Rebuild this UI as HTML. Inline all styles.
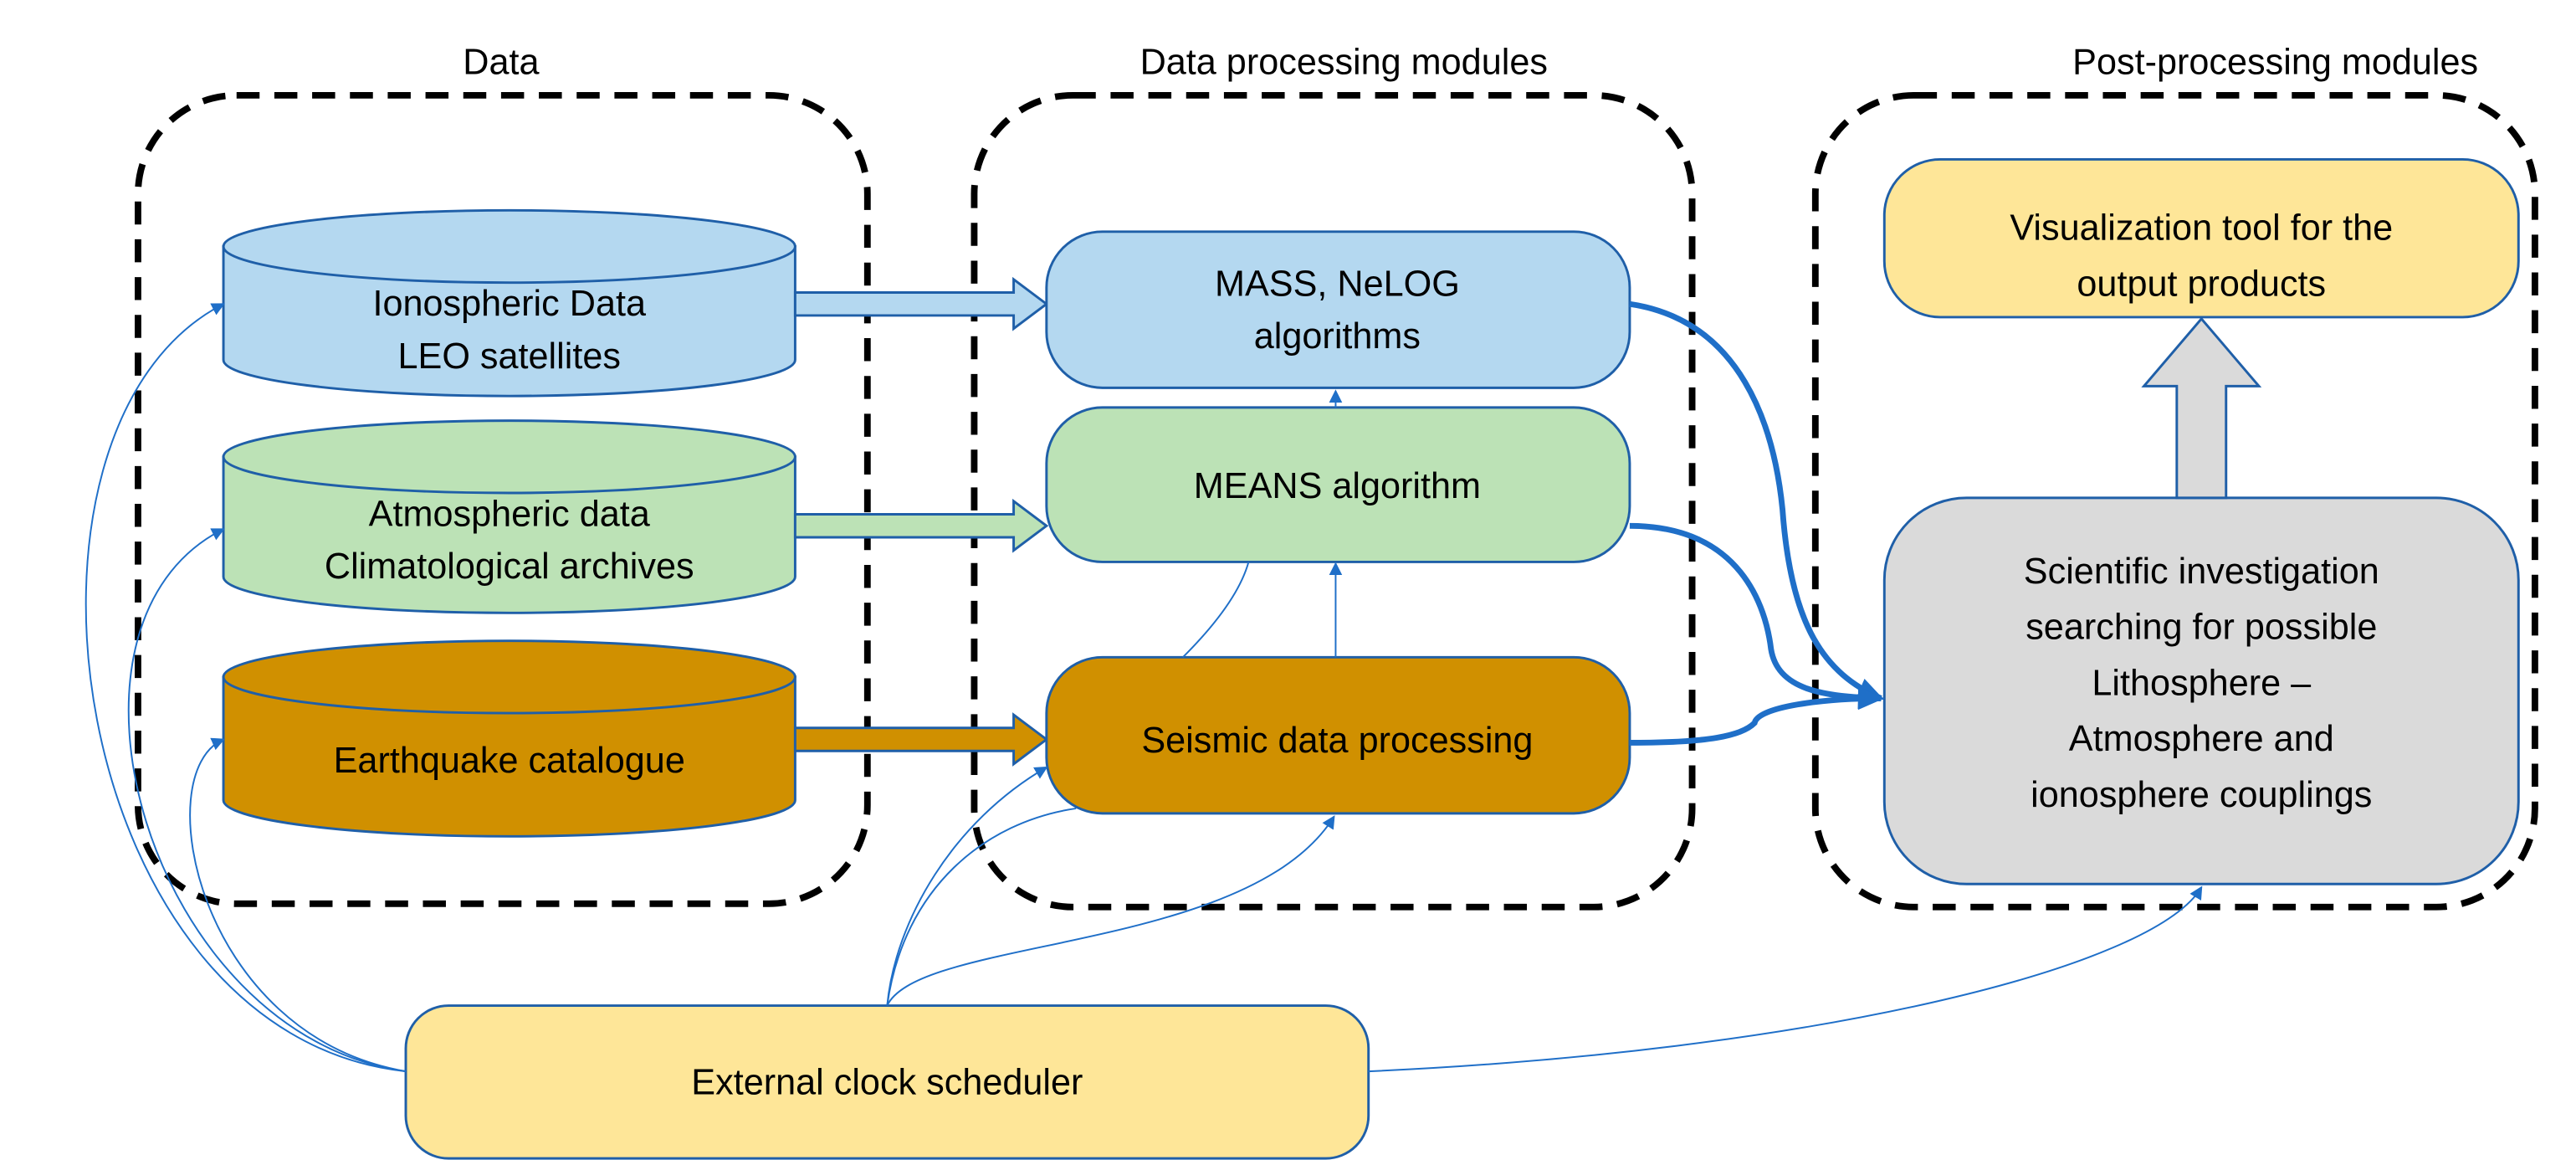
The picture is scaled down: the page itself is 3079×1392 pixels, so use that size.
<!DOCTYPE html>
<html><head><meta charset="utf-8"><style>
html,body{margin:0;padding:0;background:#fff;}
svg{display:block;}
text{font-family:"Liberation Sans",sans-serif;font-size:22px;fill:#000;text-anchor:middle;}
</style></head><body>
<svg width="3079" height="1392" viewBox="0 0 1568 709" preserveAspectRatio="none" xmlns="http://www.w3.org/2000/svg">
<defs>
<marker id="a" markerWidth="8" markerHeight="8" refX="7" refY="4" orient="auto" markerUnits="userSpaceOnUse"><path d="M0,0 L8,4 L0,8 z" fill="#1f6fc8"/></marker>
<marker id="b" markerWidth="16" markerHeight="14" refX="14" refY="7" orient="auto" markerUnits="userSpaceOnUse"><path d="M0,0 L16,7 L0,14 z" fill="#1f6fc8"/></marker>
</defs>
<text x="305" y="45">Data</text>
<text x="818" y="45">Data processing modules</text>
<text x="1385" y="45">Post-processing modules</text>
<rect x="84" y="58" width="444" height="492" rx="60" fill="none" stroke="#000" stroke-width="4" stroke-dasharray="14,9"/>
<rect x="593" y="58" width="437" height="494" rx="60" fill="none" stroke="#000" stroke-width="4" stroke-dasharray="14,9"/>
<rect x="1105" y="58" width="438" height="494" rx="60" fill="none" stroke="#000" stroke-width="4" stroke-dasharray="14,9"/>
<g stroke="#1f5fa8" stroke-width="1.5">
<path d="M136,150 L136,219 A174,22 0 0 0 484,219 L484,150 Z" fill="#b4d8f0"/>
<ellipse cx="310" cy="150" rx="174" ry="22" fill="#b4d8f0"/>
<path d="M136,278 L136,351 A174,22 0 0 0 484,351 L484,278 Z" fill="#bce2b6"/>
<ellipse cx="310" cy="278" rx="174" ry="22" fill="#bce2b6"/>
<path d="M136,412 L136,487 A174,22 0 0 0 484,487 L484,412 Z" fill="#d09000"/>
<ellipse cx="310" cy="412" rx="174" ry="22" fill="#d09000"/>
</g>
<text x="310" y="192">Ionospheric Data</text>
<text x="310" y="224">LEO satellites</text>
<text x="310" y="320">Atmospheric data</text>
<text x="310" y="352">Climatological archives</text>
<text x="310" y="470">Earthquake catalogue</text>
<g stroke="#1f5fa8" stroke-width="1.5">
<path d="M484,178 L617,178 L617,170 L637,185 L617,200 L617,192 L484,192 Z" fill="#b4d8f0"/>
<path d="M484,313 L617,313 L617,305 L637,320 L617,335 L617,327 L484,327 Z" fill="#bce2b6"/>
<path d="M484,443 L617,443 L617,435 L637,450 L617,465 L617,457 L484,457 Z" fill="#d09000"/>
</g>
<g stroke="#1f5fa8" stroke-width="1.5">
<rect x="637" y="141" width="355" height="95" rx="34" fill="#b4d8f0"/>
<rect x="637" y="248" width="355" height="94" rx="34" fill="#bce2b6"/>
<rect x="637" y="400" width="355" height="95" rx="34" fill="#d09000"/>
<rect x="1147" y="97" width="386" height="96" rx="34" fill="#fee698"/>
<rect x="1147" y="303" width="386" height="235" rx="50" fill="#dadada"/>
<rect x="247" y="612" width="586" height="93" rx="26" fill="#fee698"/>
<path d="M1325,303 L1325,235 L1305,235 L1340,194 L1375,235 L1355,235 L1355,303 Z" fill="#dadada"/>
</g>
<text x="814" y="180">MASS, NeLOG</text>
<text x="814" y="212">algorithms</text>
<text x="814" y="303">MEANS algorithm</text>
<text x="814" y="458">Seismic data processing</text>
<text x="1340" y="146">Visualization tool for the</text>
<text x="1340" y="180">output products</text>
<text x="1340" y="355">Scientific investigation</text>
<text x="1340" y="389">searching for possible</text>
<text x="1340" y="423">Lithosphere –</text>
<text x="1340" y="457">Atmosphere and</text>
<text x="1340" y="491">ionosphere couplings</text>
<text x="540" y="666">External clock scheduler</text>
<g fill="none" stroke="#1f6fc8" stroke-width="1" marker-end="url(#a)">
<path d="M247,652 C40,630 -10,260 136,185"/>
<path d="M247,652 C90,630 20,380 136,322"/>
<path d="M247,652 C120,630 90,470 136,450"/>
<path d="M540,612 C545,560 580,500 637,467"/>
<path d="M540,612 C560,570 760,580 812,497"/>
<path d="M813,400 L813,343"/>
<path d="M813,248 L813,238"/>
<path d="M833,652 C1100,640 1310,590 1340,540"/>
</g>
<g fill="none" stroke="#1f6fc8" stroke-width="1">
<path d="M540,612 C550,540 600,500 655,492"/>
<path d="M720,400 C740,380 755,360 760,342"/>
</g>
<g fill="none" stroke="#1f6fc8" stroke-width="3.5" marker-end="url(#b)">
<path d="M992,185 C1060,195 1080,260 1085,310 C1090,380 1110,410 1145,425"/>
<path d="M992,320 C1060,320 1075,370 1078,395 C1082,420 1110,424 1145,425"/>
<path d="M992,452 C1040,452 1060,448 1068,440 C1070,430 1110,425 1145,425"/>
</g>
</svg>
</body></html>
